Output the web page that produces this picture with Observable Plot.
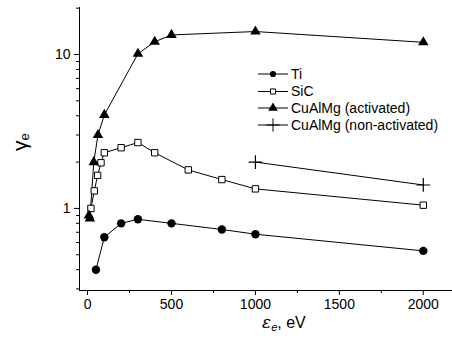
<!DOCTYPE html>
<html><head><meta charset="utf-8">
<script src="https://cdn.jsdelivr.net/npm/d3@7"></script>
<script src="https://cdn.jsdelivr.net/npm/@observablehq/plot@0.6"></script>
<style>body{margin:0;background:#fff;} #chart{width:452px;height:342px;}</style>
</head><body><div id="chart"></div>
<script>
// Data
const tiX  = [50, 100, 200, 300, 500, 800, 1000, 2000];
const tiY  = [0.40, 0.65, 0.80, 0.85, 0.80, 0.73, 0.68, 0.53];
const sicX = [20, 40, 60, 80, 100, 200, 300, 400, 600, 800, 1000, 2000];
const sicY = [1.0, 1.30, 1.64, 1.98, 2.30, 2.48, 2.68, 2.30, 1.78, 1.54, 1.34, 1.05];
const actX = [8, 14, 37, 62, 100, 300, 400, 500, 1000, 2000];
const actY = [0.90, 0.86, 2.0, 3.0, 4.05, 10.1, 12.1, 13.4, 14.1, 12.0];
const nonX = [1000, 2000];
const nonY = [2.0, 1.42];
const seriesNames = ["Ti", "SiC", "CuAlMg (activated)", "CuAlMg (non-activated)"];
const xTicks = [0, 500, 1000, 1500, 2000];
const xMinor = [250, 750, 1250, 1750];
const yTicks = [1, 10];
const yMinor = [0.3, 0.4, 0.5, 0.6, 0.7, 0.8, 0.9, 2, 3, 4, 5, 6, 7, 8, 9, 20];
const xDomain = [-48, 2174];
const yDomain = [0.293, 20.2];

const toRows = (xs, ys) => xs.map((x, i) => ({x, y: ys[i]}));
const ti = toRows(tiX, tiY), sic = toRows(sicX, sicY), act = toRows(actX, actY), non = toRows(nonX, nonY);

const plot = Plot.plot({
  width: 452, height: 342,
  marginLeft: 79, marginRight: 0, marginTop: 7, marginBottom: 52,
  style: {fontFamily: "'Liberation Sans', Arial, sans-serif", fontSize: "14px", background: "white", color: "black"},
  x: {domain: xDomain},
  y: {type: "log", domain: yDomain},
  marks: [
    Plot.axisX({ticks: xTicks, tickSize: 5, tickPadding: 4, label: null, tickFormat: d => String(d), fontSize: 14}),
    Plot.axisX({ticks: xMinor, tickSize: 3, label: null, tickFormat: () => ""}),
    Plot.axisY({ticks: yTicks, tickSize: 5, tickPadding: 4, label: null, tickFormat: d => String(d), fontSize: 14}),
    Plot.axisY({ticks: yMinor, tickSize: 3, label: null, tickFormat: () => ""}),
    Plot.ruleX([xDomain[0]], {stroke: "black"}),
    Plot.ruleY([yDomain[0]], {stroke: "black"}),
    Plot.line(ti,  {x: "x", y: "y", stroke: "black", strokeWidth: 1}),
    Plot.line(sic, {x: "x", y: "y", stroke: "black", strokeWidth: 1}),
    Plot.line(act, {x: "x", y: "y", stroke: "black", strokeWidth: 1}),
    Plot.line(non, {x: "x", y: "y", stroke: "black", strokeWidth: 1}),
    Plot.dot(ti,  {x: "x", y: "y", symbol: "circle", r: 4.2, fill: "black", stroke: "none"}),
    Plot.dot(sic, {x: "x", y: "y", symbol: "square", r: 3.6, fill: "white", stroke: "black", strokeWidth: 1}),
    Plot.dot(act, {x: "x", y: "y", symbol: "triangle", r: 3.9, fill: "black", stroke: "none"}),
    Plot.dot(non, {x: "x", y: "y", symbol: "plus", r: 4.5, stroke: "black", strokeWidth: 1.2})
  ]
});
document.getElementById("chart").appendChild(plot);

const svg = d3.select(plot);
// Y axis label
const yl = svg.append("text")
  .attr("transform", "translate(27,151) rotate(-90)")
  .attr("text-anchor", "start")
  .attr("font-family", "'Liberation Sans', Arial, sans-serif")
  .attr("fill", "black");
yl.append("tspan").attr("font-size", 21).text("γ");
yl.append("tspan").attr("font-size", 13).attr("dy", 2).text("e");

// X axis label
const xl = svg.append("text")
  .attr("x", 262).attr("y", 328)
  .attr("text-anchor", "start")
  .attr("font-family", "'Liberation Sans', Arial, sans-serif")
  .attr("fill", "black");
xl.append("tspan").attr("font-size", 17).attr("font-style", "italic").attr("font-family", "'DejaVu Serif', serif").text("ε");
xl.append("tspan").attr("font-size", 11).attr("font-style", "italic").attr("dy", 3).text("e");
xl.append("tspan").attr("font-size", 16).attr("dy", -3).text(", eV");

// Legend
const legSymbols = [d3.symbolCircle, d3.symbolSquare, d3.symbolTriangle, d3.symbolPlus];
const legFill = ["black", "white", "black", "none"];
const legSize = [30, 26, 40, 60];
const legRows = [74, 91.5, 108, 125];
const lg = svg.append("g")
  .attr("font-family", "'Liberation Sans', Arial, sans-serif")
  .attr("font-size", 14).attr("text-anchor", "start");
seriesNames.forEach((name, i) => {
  const y = legRows[i];
  lg.append("line").attr("x1", 258).attr("x2", 288).attr("y1", y).attr("y2", y).attr("stroke", "black");
  lg.append("path").attr("d", d3.symbol(legSymbols[i], legSize[i])())
    .attr("transform", `translate(273,${y})`)
    .attr("fill", legFill[i]).attr("stroke", i === 0 || i === 2 ? "none" : "black").attr("stroke-width", 1);
  lg.append("text").attr("x", 291).attr("y", y).attr("dy", "0.35em")
    .attr("text-anchor", "start").attr("fill", "black").text(name);
});
</script>
</body></html>
